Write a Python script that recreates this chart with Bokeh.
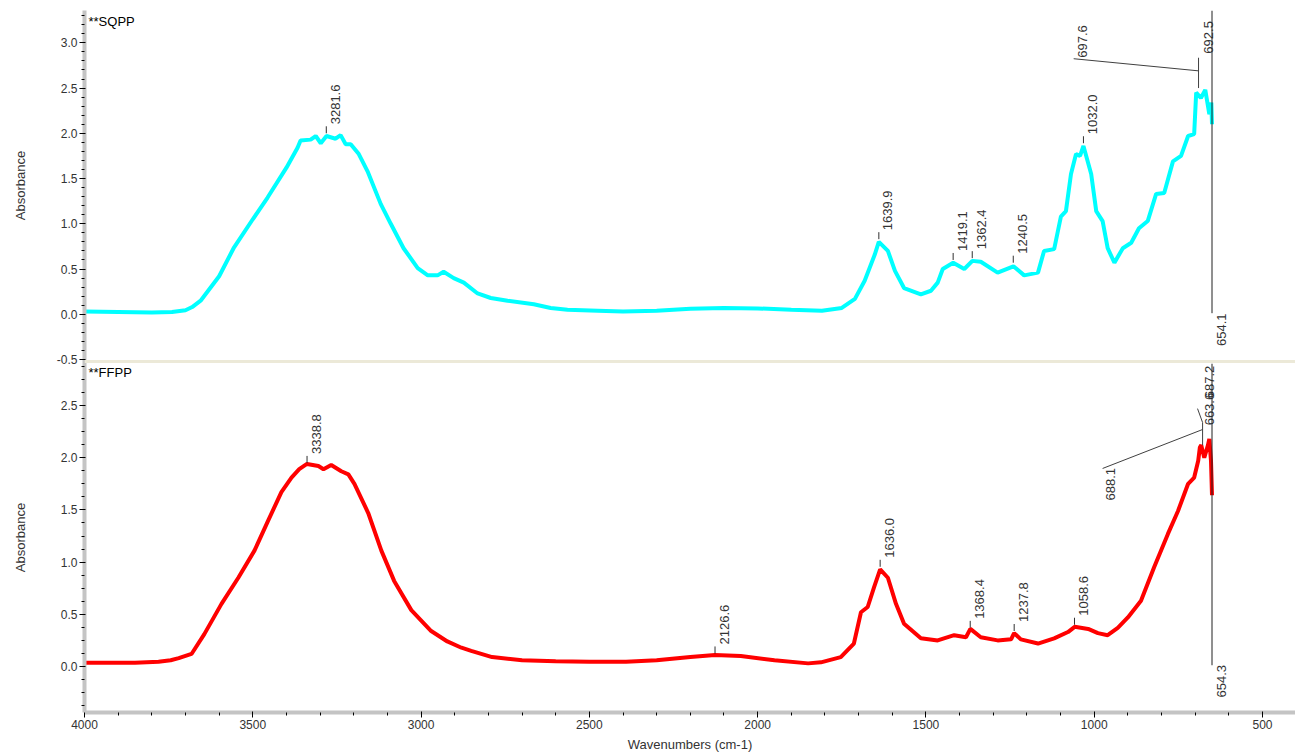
from math import pi
from bokeh.plotting import figure
from bokeh.models import Range1d, FixedTicker, Span, PrintfTickFormatter, LinearAxis
from bokeh.core.properties import value
from bokeh.embed import file_html
from bokeh.resources import INLINE

FONT = "Liberation Sans"
TXT = "#333333"
LBL = "13px"

# ---------------- data ----------------
sqpp_wn = [4000, 3900, 3800, 3740, 3700, 3680, 3655, 3600, 3557, 3500, 3456, 3400, 3367, 3358,
           3328, 3313, 3298, 3281, 3254, 3239, 3224, 3209, 3185, 3159, 3120, 3090, 3052, 3010,
           2980, 2951, 2933, 2903, 2873, 2832, 2793, 2743, 2665, 2615, 2565, 2475, 2400, 2300,
           2200, 2100, 2000, 1900, 1809, 1750, 1711, 1682, 1652, 1640, 1613, 1592, 1565, 1515,
           1485, 1465, 1450, 1419, 1386, 1362, 1337, 1287, 1240, 1208, 1167, 1149, 1119, 1099,
           1084, 1069, 1054, 1042, 1032, 1009, 994, 975, 960, 940, 915, 890, 867, 841, 816,
           792, 766, 742, 721, 703, 697, 683, 670, 658, 652, 650]
sqpp_abs = [0.03, 0.025, 0.02, 0.025, 0.045, 0.08, 0.15, 0.42, 0.73, 1.05, 1.29, 1.62, 1.84, 1.92,
            1.93, 1.97, 1.89, 1.97, 1.94, 1.98, 1.88, 1.88, 1.77, 1.58, 1.22, 1.00, 0.73, 0.51,
            0.43, 0.43, 0.47, 0.40, 0.35, 0.23, 0.18, 0.15, 0.11, 0.07, 0.05, 0.04, 0.03, 0.04,
            0.06, 0.07, 0.065, 0.05, 0.04, 0.07, 0.17, 0.37, 0.66, 0.80, 0.70, 0.48, 0.29, 0.22,
            0.26, 0.35, 0.50, 0.57, 0.50, 0.59, 0.58, 0.46, 0.53, 0.43, 0.46, 0.70, 0.72, 1.08,
            1.14, 1.55, 1.77, 1.75, 1.86, 1.55, 1.14, 1.03, 0.73, 0.57, 0.73, 0.79, 0.95, 1.03, 1.33,
            1.34, 1.69, 1.75, 1.97, 1.99, 2.45, 2.39, 2.48, 2.21, 2.34, 2.10]

ffpp_wn = [4000, 3850, 3780, 3744, 3720, 3682, 3644, 3593, 3543, 3495, 3454, 3415, 3385, 3362,
           3339, 3305, 3290, 3267, 3237, 3216, 3198, 3157, 3118, 3080, 3029, 2970, 2922, 2880,
           2851, 2789, 2700, 2600, 2500, 2391, 2300, 2200, 2127, 2050, 1950, 1850, 1812, 1753,
           1714, 1693, 1673, 1654, 1636, 1613, 1589, 1565, 1515, 1465, 1416, 1381, 1368, 1337,
           1287, 1247, 1238, 1218, 1167, 1119, 1078, 1058, 1018, 989, 960, 930, 900, 861, 822,
           781, 751, 721, 703, 691, 686, 682, 673, 662, 658, 653, 650]
ffpp_abs = [0.035, 0.035, 0.045, 0.06, 0.08, 0.12, 0.31, 0.60, 0.85, 1.11, 1.40, 1.67, 1.81, 1.89,
            1.94, 1.92, 1.89, 1.93, 1.87, 1.84, 1.75, 1.47, 1.11, 0.82, 0.54, 0.34, 0.24, 0.18,
            0.15, 0.09, 0.06, 0.05, 0.045, 0.045, 0.06, 0.09, 0.11, 0.10, 0.06, 0.03, 0.04, 0.09,
            0.22, 0.52, 0.57, 0.76, 0.93, 0.85, 0.60, 0.41, 0.27, 0.25, 0.30, 0.28, 0.36, 0.28,
            0.25, 0.26, 0.32, 0.26, 0.22, 0.27, 0.33, 0.38, 0.36, 0.32, 0.30, 0.37, 0.47, 0.63, 0.95,
            1.27, 1.49, 1.75, 1.81, 1.97, 2.10, 2.12, 2.00, 2.12, 2.18, 1.97, 1.64]

# peak labels (value = wavenumber) and the absorbance where the marker starts
sqpp_peaks = ["3281.6", "1639.9", "1419.1", "1362.4", "1240.5", "1032.0"]
sqpp_peak_base = [2.00, 0.83, 0.60, 0.62, 0.57, 1.89]
ffpp_peaks = ["3338.8", "2126.6", "1636.0", "1368.4", "1237.8", "1058.6"]
ffpp_peak_base = [1.95, 0.125, 0.955, 0.37, 0.34, 0.40]

# crowded labels placed away from their peaks (label, text position, leader lines)
sqpp_far = ["697.6", "692.5"]
sqpp_far_x = [1035, 660]
sqpp_far_y = [2.835, 2.88]
sqpp_lead_x0 = [1061, 690]
sqpp_lead_y0 = [2.824, 2.835]
sqpp_lead_x1 = [690, 690]
sqpp_lead_y1 = [2.69, 2.50]

ffpp_far = ["688.1", "663.6", "687.2"]
ffpp_far_x = [951, 657, 657]
ffpp_far_y = [1.59, 2.31, 2.57]
ffpp_lead_x0 = [975, 693, 678]
ffpp_lead_y0 = [1.897, 2.47, 2.337]
ffpp_lead_x1 = [678, 678, 678]
ffpp_lead_y1 = [2.27, 2.337, 2.12]

sqpp_end = "654.1"
ffpp_end = "654.3"

x_ticks = [4000, 3500, 3000, 2500, 2000, 1500, 1000, 500]
sqpp_yticks = [-0.5, 0.0, 0.5, 1.0, 1.5, 2.0, 2.5, 3.0]
ffpp_yticks = [0.0, 0.5, 1.0, 1.5, 2.0, 2.5]
y_title = "Absorbance"

# ---------------- layout ----------------
W, H = 1295, 755
FL, FT, FB = 84, 10, 712          # frame left / top / bottom in pixels
frame_h = FB - FT
ppu_top = 90.49                   # px per absorbance unit, upper panel
ppu_bot = 104.4                   # px per absorbance unit, lower panel
top_hi = 3.357
top_lo = top_hi - frame_h / ppu_top
bot_lo = -0.4406
bot_hi = bot_lo + frame_h / ppu_bot
x_px = 0.33657                    # px per cm-1
x_end = 4000 - (W - FL) / x_px

p = figure(width=W, height=H, x_range=Range1d(4000, x_end), y_range=Range1d(top_lo, top_hi),
           output_backend="svg", toolbar_location=None,
           min_border_left=FL, min_border_right=0, min_border_top=FT, min_border_bottom=H - FB)
p.extra_y_ranges = {"ffpp": Range1d(bot_lo, bot_hi)}
p.grid.visible = False
p.outline_line_color = None


def to_top(v):
    return top_lo + (v - bot_lo) / (bot_hi - bot_lo) * (top_hi - top_lo)


def style_axis(ax):
    ax.axis_line_color = "#c4c4c4"
    ax.axis_line_width = 4
    ax.major_tick_line_color = "#000000"
    ax.major_tick_out = 5
    ax.major_tick_in = 1
    ax.minor_tick_line_color = "#000000"
    ax.minor_tick_out = 3
    ax.minor_tick_in = 0
    ax.major_label_text_font = FONT
    ax.major_label_text_font_size = "12px"
    ax.major_label_text_color = TXT
    ax.axis_label_text_font = FONT
    ax.axis_label_text_font_size = LBL
    ax.axis_label_text_font_style = "normal"
    ax.axis_label_text_color = TXT


# y axis: both panels on one axis (lower panel ticks mapped onto the shared frame)
bot_tick_pos = [to_top(v) for v in ffpp_yticks]
top_minor = [round(-0.5 + 0.1 * k, 2) for k in range(39)]
bot_minor = [to_top(-0.375 + 0.125 * k) for k in range(27)]
yax = p.yaxis[0]
yax.ticker = FixedTicker(ticks=sqpp_yticks + bot_tick_pos, minor_ticks=top_minor + bot_minor)
overrides = {t: "%.1f" % t for t in sqpp_yticks}
for pos, v in zip(bot_tick_pos, ffpp_yticks):
    overrides[pos] = "%.1f" % v
yax.major_label_overrides = overrides
style_axis(yax)
yax.major_label_standoff = 2

# "Absorbance" titles of the two panels (outer axis carrying only these two labels)
title_pos = [1.423, to_top(1.236)]
tax = LinearAxis(ticker=FixedTicker(ticks=title_pos, minor_ticks=[]),
                 major_label_overrides={t: y_title for t in title_pos},
                 major_label_orientation="vertical",
                 axis_line_color=None, major_tick_line_color=None, minor_tick_line_color=None,
                 major_tick_out=0, major_tick_in=0, major_label_standoff=25,
                 major_label_text_font=FONT, major_label_text_font_size=LBL,
                 major_label_text_color=TXT)
p.add_layout(tax, "left")

xax = p.xaxis[0]
xax.ticker = FixedTicker(ticks=x_ticks, minor_ticks=list(range(4000, 399, -100)))
xax.formatter = PrintfTickFormatter(format="%d")
xax.axis_label = "Wavenumbers (cm-1)"
style_axis(xax)
xax.major_label_standoff = 2
xax.axis_label_standoff = 5

# separator between the two panels
p.add_layout(Span(location=top_lo + (frame_h - 351) / ppu_top, dimension="width",
                  line_color="#ece9d8", line_width=3))


def panel(wn, ab, color, peaks, base, far, far_x, far_y, lx0, ly0, lx1, ly1,
          end_label, end_top, end_y, ppu, title, title_y, rn):
    kw = dict(y_range_name=rn)
    p.line(wn, ab, line_color=color, line_width=4, **kw)
    px = [float(s) for s in peaks]
    ptop = [b + 7 / ppu for b in base]
    p.segment(x0=px, y0=base, x1=px, y1=ptop, line_color="#303030", line_width=1, **kw)
    p.text(x=px, y=[t + 2 / ppu for t in ptop], text=peaks, angle=pi / 2,
           text_align="left", text_baseline="middle", x_offset=9,
           text_font=value(FONT), text_font_size=LBL, text_color=TXT, **kw)
    p.segment(x0=lx0, y0=ly0, x1=lx1, y1=ly1, line_color="#404040", line_width=1, **kw)
    p.text(x=far_x, y=far_y, text=far, angle=pi / 2,
           text_align="left", text_baseline="middle",
           text_font=value(FONT), text_font_size=LBL, text_color=TXT, **kw)
    xend = wn[-1]
    p.segment(x0=[xend], y0=[end_top], x1=[xend], y1=[0.012], line_color="#202020",
              line_width=1, **kw)
    p.text(x=[xend], y=[end_y], text=[end_label], angle=pi / 2,
           text_align="left", text_baseline="middle", x_offset=9,
           text_font=value(FONT), text_font_size=LBL, text_color=TXT, **kw)
    p.text(x=[wn[0]], y=[title_y], text=[title], x_offset=4,
           text_align="left", text_baseline="middle",
           text_font=value(FONT), text_font_size=LBL, text_color="#000000", **kw)


panel(sqpp_wn, sqpp_abs, "#00FFFF", sqpp_peaks, sqpp_peak_base,
      sqpp_far, sqpp_far_x, sqpp_far_y, sqpp_lead_x0, sqpp_lead_y0, sqpp_lead_x1, sqpp_lead_y1,
      sqpp_end, top_hi, -0.35, ppu_top, "**SQPP", 3.24, "default")
panel(ffpp_wn, ffpp_abs, "#FF0000", ffpp_peaks, ffpp_peak_base,
      ffpp_far, ffpp_far_x, ffpp_far_y, ffpp_lead_x0, ffpp_lead_y0, ffpp_lead_x1, ffpp_lead_y1,
      ffpp_end, 2.90, -0.297, ppu_bot, "**FFPP", 2.82, "ffpp")

open("out.html", "w").write(file_html(p, INLINE))
